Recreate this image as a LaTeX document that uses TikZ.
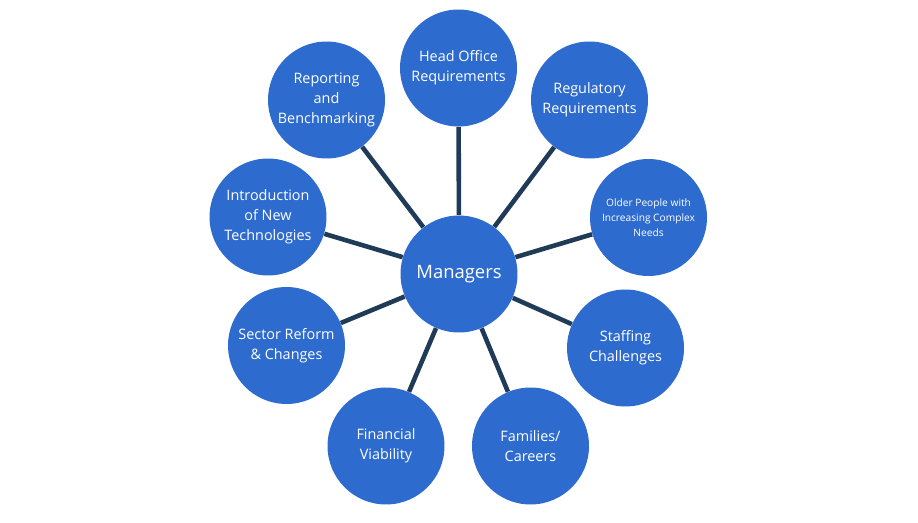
\documentclass[tikz,border=0pt]{standalone}
\usepackage{fontspec}
\setmainfont{Open Sans}
\definecolor{bubble}{HTML}{2D6BCF}
\definecolor{spoke}{HTML}{1F3B57}
\tikzset{
  topic/.style={circle, fill=bubble, text=white, minimum size=2.34cm, inner sep=0pt, align=center, font=\fontsize{8.2}{11.3}\selectfont},
  hub/.style={topic, font=\fontsize{10.5}{13}\selectfont},
  small/.style={topic, font=\fontsize{5.8}{8.4}\selectfont},
  link/.style={spoke, line width=2.6pt}
}
\begin{document}
\begin{tikzpicture}[x=0.02cm, y=-0.02cm]
\useasboundingbox[fill=white] (0,0) rectangle (918,523);
\node[hub] (mgr) at (459,274){Managers};
\node[topic] (head) at (458.5,68){Head Office\\Requirements};
\node[topic] (reg) at (589.5,100){Regulatory\\Requirements};
\node[small] (older) at (648.5,217.5){Older People with\\Increasing Complex\\Needs};
\node[topic] (staff) at (625.5,348){Staffing\\Challenges};
\node[topic] (fam) at (530.5,446){Families/\\Careers};
\node[topic] (fin) at (386,446){Financial\\Viability};
\node[topic] (sector) at (286.5,345.5){Sector Reform\\\& Changes};
\node[topic] (tech) at (268,217){Introduction\\of New\\Technologies};
\node[topic] (report) at (326.5,100){Reporting\\and\\Benchmarking};
\draw[link](mgr) -- (head);
\draw[link](mgr) -- (reg);
\draw[link](mgr) -- (older);
\draw[link](mgr) -- (staff);
\draw[link](mgr) -- (fam);
\draw[link](mgr) -- (fin);
\draw[link](mgr) -- (sector);
\draw[link](mgr) -- (tech);
\draw[link](mgr) -- (report);
\end{tikzpicture}
\end{document}
